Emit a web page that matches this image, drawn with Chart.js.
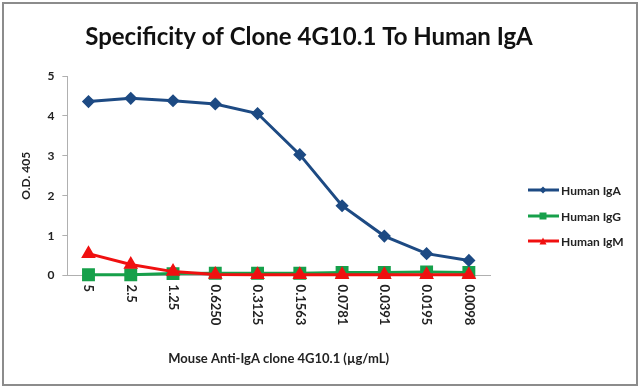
<!DOCTYPE html>
<html>
<head>
<meta charset="utf-8">
<script src="https://cdn.jsdelivr.net/npm/chart.js@4"></script>
<style>
  html, body { margin: 0; padding: 0; background: #fff; }
  #wrap { position: relative; width: 640px; height: 388px; }
</style>
</head>
<body>
<div id="wrap"><canvas id="chart" width="640" height="388"></canvas></div>
<script>
// data
const doses = ["5", "2.5", "1.25", "0.6250", "0.3125", "0.1563", "0.0781", "0.0391", "0.0195", "0.0098"];
const igA = [4.36, 4.44, 4.38, 4.30, 4.06, 3.03, 1.75, 0.99, 0.55, 0.38];
const igG = [0.02, 0.02, 0.05, 0.06, 0.06, 0.06, 0.08, 0.08, 0.09, 0.08];
const igM = [0.55, 0.28, 0.10, 0.03, 0.02, 0.02, 0.02, 0.02, 0.02, 0.02];
const yTicks = [0, 1, 2, 3, 4, 5];

const FONT = "Lato, 'Open Sans', sans-serif";

// frame, title, rotated x labels and legend
const decor = {
    id: "decor",
    afterDraw(chart) {
        const ctx = chart.ctx;
        const x = chart.scales.x;
        ctx.save();

        // gray frame round the picture
        ctx.strokeStyle = "#8c8c8c";
        ctx.lineWidth = 2;
        ctx.strokeRect(3, 3, 634, 382);

        // title
        ctx.fillStyle = "#111";
        ctx.font = "bold 24px " + FONT;
        ctx.textAlign = "center";
        ctx.textBaseline = "middle";
        ctx.fillText("Specificity of Clone 4G10.1 To Human IgA", 309, 37);

        // x tick labels, read top to bottom
        ctx.font = "bold 13px " + FONT;
        ctx.fillStyle = "#222";
        ctx.textAlign = "left";
        x.ticks.forEach(function (t, i) {
            const px = x.getPixelForTick(i);
            ctx.save();
            ctx.translate(px, x.top + 9);
            ctx.rotate(Math.PI / 2);
            ctx.fillText(doses[i], 0, 0);
            ctx.restore();
        });

        // legend
        const items = [
            { ds: chart.data.datasets[0], y: 190 },
            { ds: chart.data.datasets[1], y: 216 },
            { ds: chart.data.datasets[2], y: 241 },
        ];
        ctx.font = "bold 12px " + FONT;
        ctx.textBaseline = "middle";
        items.forEach(function (it) {
            const c = it.ds.borderColor;
            ctx.strokeStyle = c;
            ctx.fillStyle = c;
            ctx.lineWidth = 3;
            ctx.beginPath();
            ctx.moveTo(528, it.y);
            ctx.lineTo(559, it.y);
            ctx.stroke();
            const mx = 543, my = it.y, r = 3.5;
            ctx.beginPath();
            if (it.ds.pointStyle === "rectRot") {
                ctx.moveTo(mx, my - r); ctx.lineTo(mx + r, my);
                ctx.lineTo(mx, my + r); ctx.lineTo(mx - r, my);
            } else if (it.ds.pointStyle === "rect") {
                ctx.rect(mx - r, my - r, 2 * r, 2 * r);
            } else {
                ctx.moveTo(mx, my - r); ctx.lineTo(mx + r, my + r); ctx.lineTo(mx - r, my + r);
            }
            ctx.closePath();
            ctx.fill();
            ctx.fillStyle = "#222";
            ctx.fillText(it.ds.label, 561, it.y + 1);
        });
        ctx.restore();
    },
};

new Chart(document.getElementById("chart"), {
    type: "line",
    data: {
        labels: doses,
        datasets: [
            {
                label: "Human IgA",
                data: igA,
                borderColor: "#1d4a83",
                backgroundColor: "#1d4a83",
                pointStyle: "rectRot",
                pointRadius: 4.5,
                borderWidth: 3,
                clip: false,
                order: 0,
            },
            {
                label: "Human IgG",
                data: igG,
                borderColor: "#16a04a",
                backgroundColor: "#16a04a",
                pointStyle: "rect",
                pointRadius: 7,
                borderWidth: 3,
                clip: false,
                order: 2,
            },
            {
                label: "Human IgM",
                data: igM,
                borderColor: "#f01010",
                backgroundColor: "#f01010",
                pointStyle: "triangle",
                pointRadius: 5.5,
                borderWidth: 3,
                clip: false,
                order: 1,
            },
        ],
    },
    options: {
        responsive: false,
        animation: false,
        layout: { padding: { top: 76, right: 150, bottom: 21, left: 19 } },
        plugins: {
            legend: { display: false },
            title: { display: false },
            tooltip: { enabled: false },
        },
        scales: {
            x: {
                offset: true,
                grid: { display: false, drawTicks: false },
                border: { display: true, color: "#b0b0b0", width: 1 },
                ticks: {
                    color: "rgba(0,0,0,0)",
                    font: { family: FONT, size: 13, weight: "bold" },
                    minRotation: 90,
                    maxRotation: 90,
                    autoSkip: false,
                    padding: 6,
                },
                title: {
                    display: true,
                    text: "Mouse Anti-IgA clone 4G10.1 (µg/mL)",
                    color: "#222",
                    font: { family: FONT, size: 13, weight: "bold" },
                    padding: { top: 23, bottom: 0 },
                },
            },
            y: {
                min: 0,
                max: 5,
                afterBuildTicks: function (axis) {
                    axis.ticks = yTicks.map(function (v) { return { value: v }; });
                },
                grid: { drawOnChartArea: false, drawTicks: true, tickLength: 5, color: "#b0b0b0" },
                border: { display: true, color: "#b0b0b0", width: 1 },
                ticks: {
                    color: "#222",
                    font: { family: FONT, size: 12, weight: "bold" },
                    padding: 8,
                },
                title: {
                    display: true,
                    text: "O.D. 405",
                    color: "#222",
                    font: { family: FONT, size: 12, weight: "bold" },
                    padding: { top: 0, bottom: 6 },
                },
            },
        },
    },
    plugins: [decor],
});
</script>
</body>
</html>
